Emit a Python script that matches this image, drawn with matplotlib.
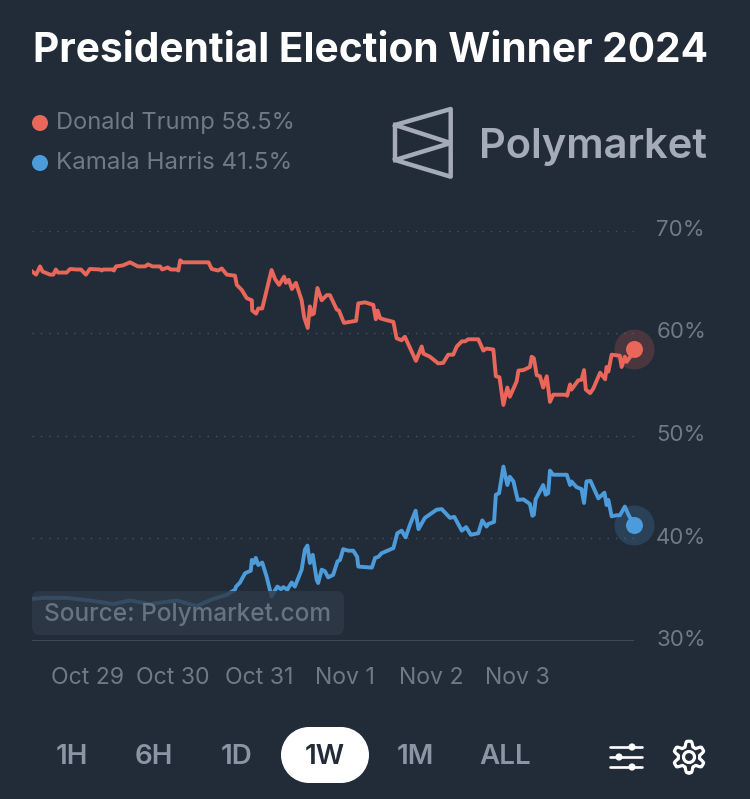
import matplotlib
matplotlib.use('Agg')
import matplotlib.pyplot as plt
import numpy as np
from matplotlib.patches import FancyBboxPatch, Circle, Polygon
from matplotlib.transforms import ScaledTranslation

plt.rcParams['font.family'] = ['Inter', 'DejaVu Sans']

# hours since Oct 29 00:00 and chance in percent
trump_hours = [-15.3, -14.2, -13.1, -12.4, -10.3, -9.4, -8.7, -8.1, -5.7, -4.7, -2.9, -1.7, -0.3, 0.8, 3.6, 4.1, 4.5, 7.2, 7.5, 8.1,
               10.0, 12.0, 14.2, 16.2, 17.0, 18.3, 20.4, 21.0, 22.5, 23.4, 25.2, 25.5, 26.0, 26.7, 33.9, 34.8, 36.6, 37.6, 39.0, 41.3,
               41.8, 43.2, 44.6, 46.0, 46.1, 47.2, 47.8, 48.9, 50.0, 51.5, 52.5, 53.6, 55.0, 55.5, 56.3, 57.2, 58.3, 59.9, 60.6, 61.6,
               62.2, 62.7, 63.3, 64.3, 65.5, 66.9, 67.8, 69.7, 70.3, 71.7, 75.1, 75.7, 77.6, 79.9, 80.6, 81.1, 81.8, 83.2, 85.5, 86.4,
               87.8, 88.7, 91.8, 93.4, 93.9, 95.7, 98.0, 99.4, 100.8, 102.2, 103.2, 104.6, 105.5, 106.4, 109.2, 110.6, 111.5, 113.4, 114.1, 115.1,
               116.2, 117.3, 118.0, 119.9, 120.4, 121.8, 123.6, 124.1, 124.7, 125.5, 126.4, 127.3, 128.3, 129.2, 130.1, 133.4, 134.0, 134.8, 135.2, 137.1,
               138.0, 138.7, 139.2, 140.4, 141.3, 143.2, 144.6, 145.0, 145.5, 146.4, 148.7, 149.2, 150.1, 150.6, 152.0, 152.7]
trump_pct = [66.0, 65.7, 66.5, 66.0, 65.7, 65.7, 66.2, 65.9, 65.9, 66.25, 66.2, 66.2, 65.7, 66.25, 66.2, 66.1, 66.2, 66.2, 66.1, 66.5,
             66.6, 66.9, 66.5, 66.5, 66.7, 66.5, 66.5, 66.2, 66.4, 66.2, 66.2, 66.1, 67.1, 66.9, 66.9, 66.25, 66.1, 66.3, 65.7, 65.6,
             64.7, 64.2, 63.4, 63.2, 62.2, 61.9, 62.4, 62.4, 64.0, 66.15, 65.25, 64.7, 65.5, 64.9, 65.2, 64.3, 64.9, 63.2, 61.55, 60.5,
             62.6, 61.8, 61.9, 64.4, 63.2, 63.7, 63.7, 62.3, 62.2, 61.0, 61.2, 62.9, 63.0, 62.75, 61.35, 62.2, 61.45, 61.3, 61.1, 59.5,
             59.3, 59.65, 57.3, 58.7, 58.0, 57.7, 57.05, 57.1, 57.9, 57.9, 58.7, 59.2, 59.2, 59.4, 59.4, 58.3, 58.5, 58.4, 55.8, 55.7,
             53.0, 54.7, 53.8, 55.3, 56.35, 56.4, 56.7, 57.7, 57.55, 55.9, 55.8, 54.7, 55.8, 53.3, 54.0, 54.0, 53.9, 55.0, 54.5, 55.4,
             55.45, 56.4, 54.5, 54.15, 54.6, 56.15, 55.5, 56.7, 56.25, 57.9, 57.8, 56.7, 57.7, 57.2, 57.9, 58.5]

harris_hours = [-15.3, -12.3, -5.7, 0.8, 7.3, 12.0, 17.6, 25.0, 30.6, 35.2, 39.0, 41.3, 41.6, 42.7, 44.1, 45.7, 46.0, 46.6, 47.1, 47.8,
                48.9, 50.1, 51.5, 53.1, 54.1, 54.8, 55.9, 57.1, 58.0, 59.9, 60.8, 61.5, 62.2, 63.0, 64.1, 64.5, 65.5, 66.4, 67.3, 68.7,
                69.9, 70.6, 71.5, 72.9, 74.3, 75.4, 75.7, 79.5, 80.4, 81.3, 82.2, 85.5, 86.6, 87.8, 88.9, 90.1, 91.7, 92.5, 94.3, 97.6,
                99.0, 101.3, 102.5, 104.6, 105.8, 107.1, 109.2, 110.3, 111.5, 112.0, 113.6, 114.1, 115.0, 116.2, 117.3, 118.0, 119.0, 120.2, 121.8, 123.6,
                124.3, 124.7, 125.2, 127.3, 128.0, 128.7, 129.2, 130.1, 133.9, 134.8, 135.2, 136.6, 138.0, 138.7, 139.4, 140.5, 142.7, 144.4, 145.0, 145.5,
                146.4, 147.8, 148.7, 150.1, 151.1, 152.7]
harris_pct = [34.1, 34.2, 34.2, 33.95, 33.6, 33.95, 33.6, 33.95, 33.4, 34.1, 34.5, 35.0, 35.3, 35.7, 36.6, 36.85, 37.9, 37.6, 38.1, 37.4,
              37.65, 36.3, 34.35, 35.3, 35.05, 35.25, 35.0, 35.7, 35.3, 36.95, 38.9, 39.3, 37.6, 38.4, 35.95, 35.65, 36.95, 36.8, 36.2, 36.45,
              37.75, 37.9, 38.95, 38.8, 38.8, 38.2, 37.25, 37.15, 38.1, 38.2, 38.55, 39.05, 40.5, 40.75, 40.1, 41.3, 42.7, 40.9, 42.0, 42.8,
              42.85, 42.0, 42.1, 40.75, 41.1, 40.35, 40.5, 41.75, 41.15, 41.4, 41.6, 44.25, 44.4, 47.0, 45.2, 46.0, 45.55, 43.75, 43.8, 43.35,
              42.2, 42.3, 43.8, 45.2, 44.25, 44.4, 46.6, 46.2, 46.2, 45.2, 45.55, 45.0, 44.8, 43.45, 45.55, 45.6, 43.9, 44.45, 43.25, 43.75,
              42.15, 42.25, 42.25, 43.1, 42.3, 41.3]

day_hours = [0, 24, 48, 72, 96, 120]
day_labels = ['Oct 29', 'Oct 30', 'Oct 31', 'Nov 1', 'Nov 2', 'Nov 3']
pct_ticks = [30, 40, 50, 60, 70]
pct_labels = ['30%', '40%', '50%', '60%', '70%']
range_labels = ['1H', '6H', '1D', '1W', '1M', 'ALL']
legend_labels = ['Donald Trump 58.5%', 'Kamala Harris 41.5%']

BG = '#222b38'
RED = '#e8675a'
BLUE = '#4c9cdc'
GREY = '#8b95a3'
W, H = 750, 799

fig = plt.figure(figsize=(7.5, 7.99), dpi=100, facecolor=BG)

# chart area, 32..634 px wide and 230.5..641 px down
ax = fig.add_axes([32 / W, 1 - 641 / H, 602 / W, 410.5 / H], facecolor='none')
ax.set_xlim(-15.35, 152.65)
ax.set_ylim(30, 70)
for s in ax.spines.values():
    s.set_visible(False)
for p in pct_ticks[1:]:
    ax.axhline(p, color='#465160', lw=1, ls=(0, (1, 5)), zorder=1)
ax.axhline(30, color='#3f4a58', lw=1.4, zorder=1)

ax.plot(trump_hours, trump_pct, color=RED, lw=2.8, solid_joinstyle='round', zorder=3)
ax.plot(harris_hours, harris_pct, color=BLUE, lw=2.8, solid_joinstyle='round', zorder=3)
ax.scatter(trump_hours[-1], trump_pct[-1], s=830, color=RED, alpha=0.2, lw=0, clip_on=False, zorder=2)
ax.scatter(trump_hours[-1], trump_pct[-1], s=150, color=RED, lw=0, clip_on=False, zorder=4)
ax.scatter(harris_hours[-1], harris_pct[-1], s=830, color=BLUE, alpha=0.2, lw=0, clip_on=False, zorder=2)
ax.scatter(harris_hours[-1], harris_pct[-1], s=150, color=BLUE, lw=0, clip_on=False, zorder=4)

ax.set_xticks(day_hours, day_labels)
ax.yaxis.tick_right()
ax.set_yticks(pct_ticks, pct_labels)
ax.tick_params(axis='x', length=0, pad=19, labelsize=16.6, labelcolor='#6f7a87')
ax.tick_params(axis='y', length=0, pad=16, labelsize=16, labelcolor='#6f7a87')
for lab in ax.get_yticklabels():
    lab.set_transform(lab.get_transform() + ScaledTranslation(0, 2 / 72, fig.dpi_scale_trans))

# everything else sits on a full figure layer in pixels
top = fig.add_axes([0, 0, 1, 1], facecolor='none')
top.set_xlim(0, W)
top.set_ylim(H, 0)
top.axis('off')

top.text(33, 51, 'Presidential Election Winner 2024', color='white', fontsize=29.25, fontweight='bold', va='center')

top.add_patch(Circle((40, 123), 8, color=RED, lw=0))
top.add_patch(Circle((40, 163), 8, color=BLUE, lw=0))
top.text(56, 123, legend_labels[0], color='#6f7a87', fontsize=17, va='center')
top.text(56, 163, legend_labels[1], color='#6f7a87', fontsize=17.4, va='center')

# logo
LOGO = '#a5acb8'
top.add_patch(Polygon([(395, 125), (450.7, 109), (450.7, 176.7), (395, 160)], closed=True, fill=False, ec=LOGO, lw=3.2, joinstyle='round'))
top.plot([395, 450.7, 395], [125, 143, 160], color=LOGO, lw=3.2, solid_joinstyle='bevel')
top.text(479, 147, 'Polymarket', color=LOGO, fontsize=30, fontweight='semibold', va='center')

# source badge goes over the lines
top.add_patch(FancyBboxPatch((38, 597), 300, 32, boxstyle='round,pad=6,rounding_size=8', fc='#2f3a48', ec='none', alpha=0.82))
top.text(44, 614, 'Source: Polymarket.com', color='#68737f', fontsize=17.6, fontweight='medium', va='center')

# range buttons
top.add_patch(FancyBboxPatch((309, 727), 32, 56, boxstyle='square,pad=0', fc='white', ec='none'))
top.add_patch(Circle((309, 755), 28, color='white', lw=0))
top.add_patch(Circle((341, 755), 28, color='white', lw=0))
for x, lab in zip([72, 154, 237, 325, 415, 505], range_labels):
    top.text(x, 757, lab, color=BG if lab == '1W' else GREY, fontsize=20, fontweight='semibold', ha='center', va='center')

# sliders icon
for y, kx in zip([747, 757, 767], [632, 619, 632]):
    top.plot([610, 642], [y, y], color='white', lw=1.9, solid_capstyle='round')
    top.add_patch(Circle((kx, y), 3.6, color='white', lw=0))

# gear icon
t = np.linspace(0, 2 * np.pi, 241)
r = 13.2 + 2.6 * np.clip(1.6 * np.cos(6 * t), -1, 1)
top.plot(689 + r * np.sin(t), 757 + r * np.cos(t), color='white', lw=2.3)
top.add_patch(Circle((689, 757), 5.5, fill=False, ec='white', lw=2.3))

plt.savefig('out.png', dpi=100, facecolor=BG)
